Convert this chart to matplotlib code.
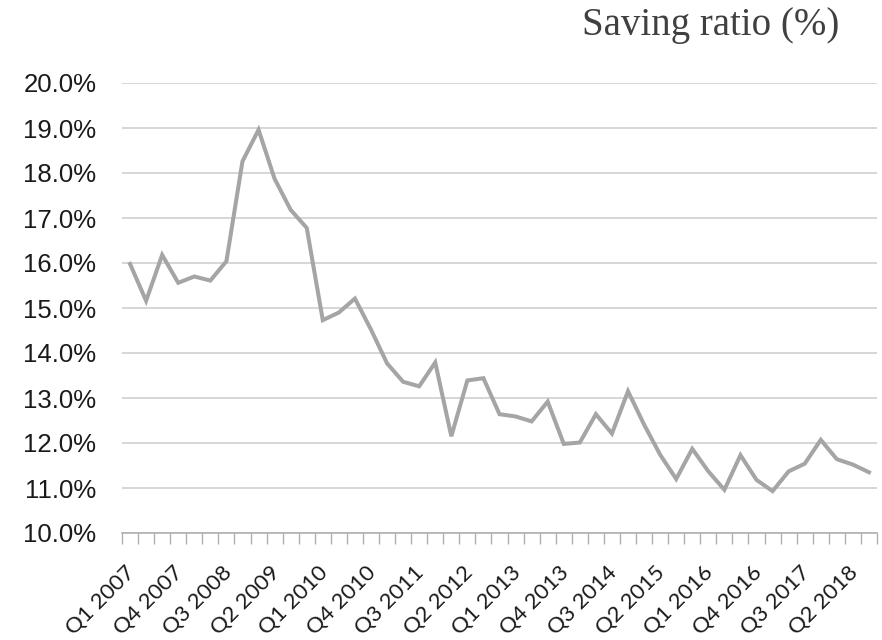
import matplotlib
matplotlib.use("Agg")
import matplotlib.pyplot as plt
from matplotlib.ticker import FixedLocator, FuncFormatter
from matplotlib.transforms import ScaledTranslation
import numpy as np

# Quarterly household saving ratio, Q1 2007 - Q3 2018 (%)
years = list(range(2007, 2019))
quarters = [f"Q{q} {y}" for y in years for q in (1, 2, 3, 4)][:47]
saving_ratio = [
    15.98, 15.16, 16.18, 15.56, 15.70, 15.61, 16.04, 18.26,
    18.96, 17.87, 17.18, 16.78, 14.73, 14.90, 15.21, 14.52,
    13.77, 13.36, 13.26, 13.79, 12.15, 13.39, 13.44, 12.64,
    12.59, 12.48, 12.92, 11.98, 12.01, 12.64, 12.21, 13.15,
    12.41, 11.74, 11.20, 11.87, 11.37, 10.96, 11.73, 11.18,
    10.93, 11.37, 11.54, 12.07, 11.64, 11.52, 11.35,
]
y_ticks = [10, 11, 12, 13, 14, 15, 16, 17, 18, 19, 20]
label_step = 3

fig = plt.figure(figsize=(8.82, 6.4), dpi=100)
ax = fig.add_axes([122 / 882, 1 - 533 / 640, (877 - 122) / 882, (533 - 83) / 640])

x = np.arange(len(saving_ratio))
ax.plot(x, saving_ratio, color="#a5a5a5", lw=2.9, solid_joinstyle="miter", zorder=3)

ax.set_xlim(-0.5, len(saving_ratio) - 0.5)
ax.set_ylim(y_ticks[0], y_ticks[-1])

# horizontal gridlines
ax.yaxis.set_major_locator(FixedLocator(y_ticks))
ax.yaxis.set_major_formatter(FuncFormatter(lambda v, p: f"{v:.1f}%"))
ax.grid(axis="y", color="#d0d0d0", lw=1.2, zorder=0)
ax.tick_params(axis="y", length=0, pad=18.5, labelsize=18.5, labelcolor="#1a1a1a")
for lab in ax.get_yticklabels():
    lab.set_fontfamily("Liberation Sans")

# category axis: tick marks between categories, labels every third quarter
label_pos = x[::label_step]
ax.set_xticks(label_pos)
ax.set_xticklabels([quarters[i] for i in label_pos], rotation=45, ha="right",
                   va="center", rotation_mode="anchor", fontsize=16,
                   color="#1a1a1a", fontfamily="Lato")
ax.tick_params(axis="x", which="major", length=0, pad=26)
shift = ScaledTranslation(2 / 100, 0, fig.dpi_scale_trans)
for lab in ax.get_xticklabels():
    lab.set_transform(lab.get_transform() + shift)
ax.set_xticks(np.arange(-0.5, len(saving_ratio) + 0.5, 1), minor=True)
ax.tick_params(axis="x", which="minor", length=8, width=1, color="#b0b0b0", direction="out")

for side in ("left", "right", "top"):
    ax.spines[side].set_visible(False)
ax.spines["bottom"].set_color("#b0b0b0")
ax.spines["bottom"].set_linewidth(1.2)

fig.text(839 / 882, 1 - 25 / 640, "Saving ratio (%)", ha="right", va="center",
         fontsize=28, color="#404040", fontfamily="Liberation Serif")

fig.savefig("out.png", dpi=100, facecolor="white")
